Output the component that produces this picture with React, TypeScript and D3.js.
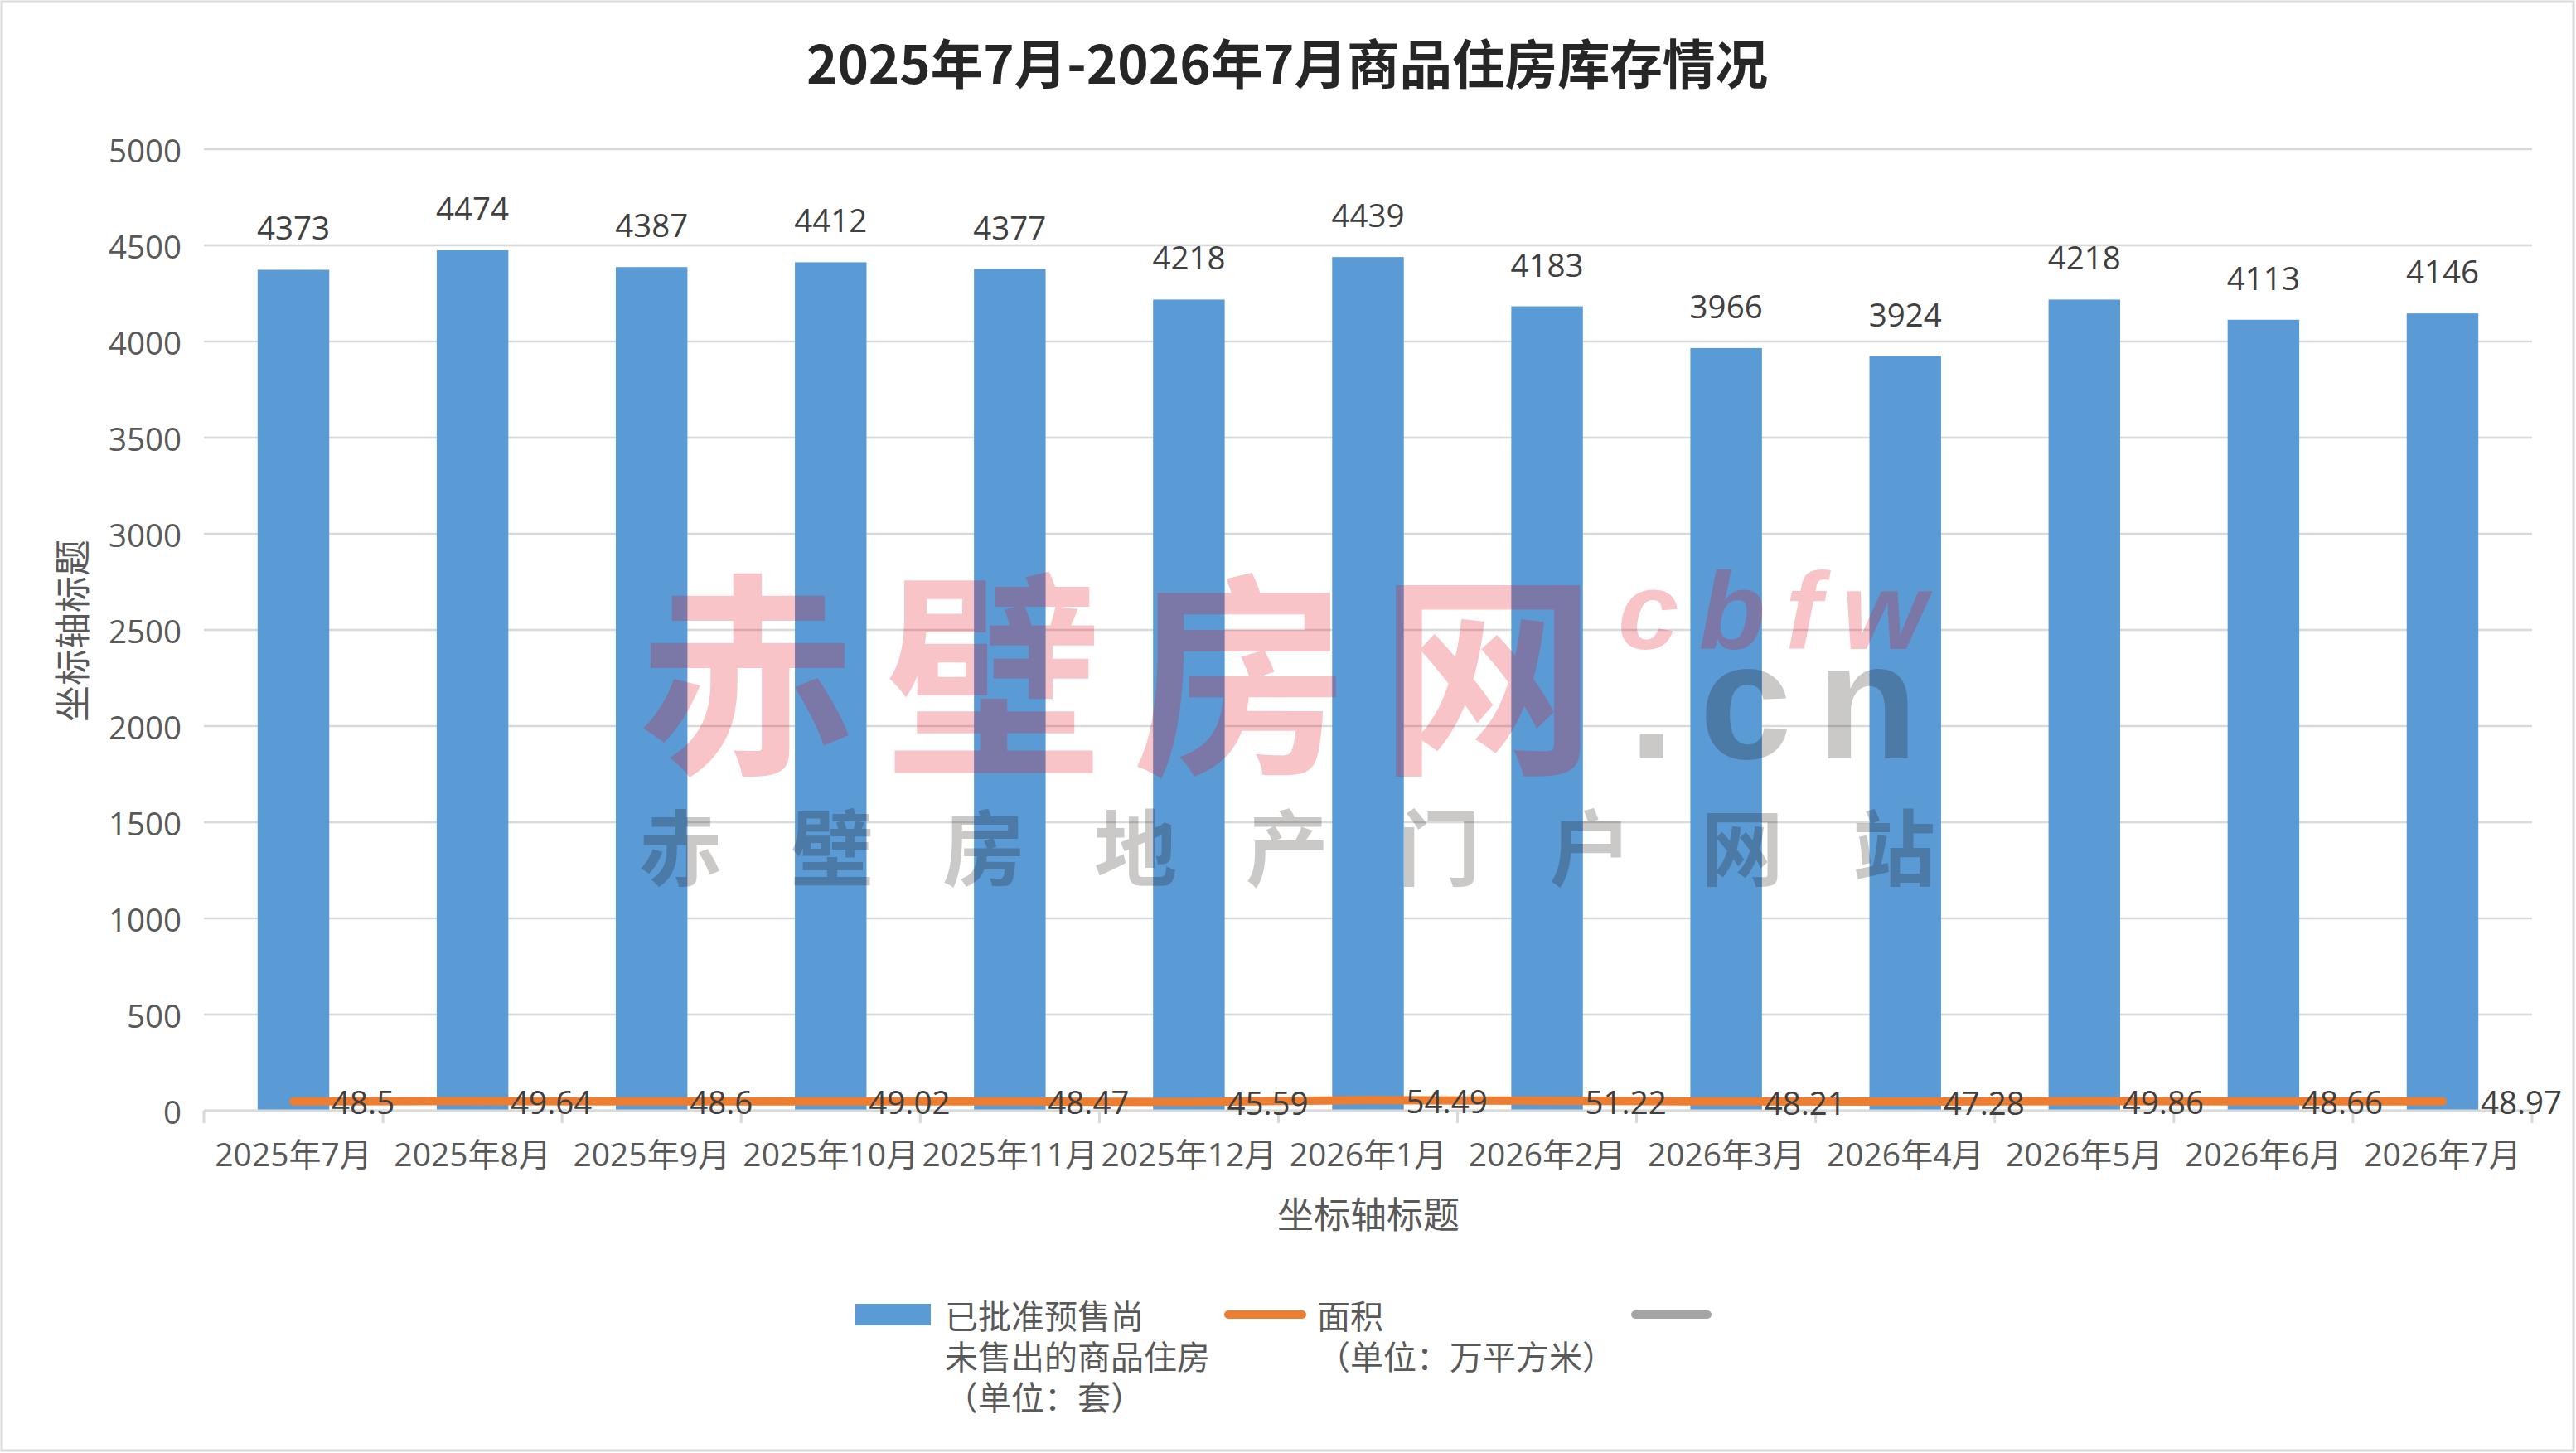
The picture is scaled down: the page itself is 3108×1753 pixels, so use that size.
import React from 'react';
import * as d3 from 'd3';

const categories = [
  '2025年7月', '2025年8月', '2025年9月', '2025年10月', '2025年11月', '2025年12月',
  '2026年1月', '2026年2月', '2026年3月', '2026年4月', '2026年5月', '2026年6月', '2026年7月',
];
const unsoldUnits = [4373, 4474, 4387, 4412, 4377, 4218, 4439, 4183, 3966, 3924, 4218, 4113, 4146];
const unsoldArea = [48.5, 49.64, 48.6, 49.02, 48.47, 45.59, 54.49, 51.22, 48.21, 47.28, 49.86, 48.66, 48.97];
const yTickValues = [0, 500, 1000, 1500, 2000, 2500, 3000, 3500, 4000, 4500, 5000];

const titleText = '2025年7月-2026年7月商品住房库存情况';
const axisTitle = '坐标轴标题';
const legendBarLines = ['已批准预售尚', '未售出的商品住房', '（单位：套）'];
const legendLineLines = ['面积', '（单位：万平方米）'];

const wmMain = '赤壁房网';
const wmLatin = 'cbfw';
const wmDomain = '.cn';
const wmSub = ['赤', '壁', '房', '地', '产', '门', '户', '网', '站'];

const W = 3108;
const H = 1753;
const LATIN = "'Open Sans', 'Noto Sans CJK SC', sans-serif";
const CJK = "'Noto Sans CJK SC', sans-serif";

export default function App() {
  const left = 246;
  const right = 3055;
  const top = 180;
  const bottom = 1340;

  const x = d3.scaleBand<string>().domain(categories).range([left, right]).paddingInner(0.6).paddingOuter(0.3);
  const y = d3.scaleLinear().domain([0, 5000]).range([bottom, top]);
  const step = (right - left) / categories.length;
  const cx = (c: string) => (x(c) as number) + x.bandwidth() / 2;

  const lineGen = d3
    .line<number>()
    .x((_, i) => cx(categories[i]))
    .y((d) => y(d));

  const fs = 38.5;
  const capHalf = fs * 0.714 / 2;

  return (
    <svg
      width={W}
      height={H}
      viewBox={`0 0 ${W} ${H}`}
      style={{ position: 'fixed', left: 0, top: 0, background: '#fff' }}
    >
      <rect x={2} y={2} width={W - 5} height={H - 5} fill="#fff" stroke="#d9d9d9" strokeWidth={3} />

      {/* title */}
      <text
        x={1553}
        y={78 + 23}
        textAnchor="middle"
        fontFamily={CJK}
        fontWeight={700}
        fontSize={63.5}
        fill="#262626"
      >
        {titleText}
      </text>

      {/* gridlines */}
      {yTickValues.map((v) => (
        <line key={'g' + v} x1={left} x2={right} y1={y(v)} y2={y(v)} stroke="#d9d9d9" strokeWidth={2.5} />
      ))}

      {/* y tick labels */}
      {yTickValues.map((v) => (
        <text
          key={'yl' + v}
          x={219}
          y={y(v) + capHalf + 2}
          textAnchor="end"
          fontFamily={LATIN}
          fontSize={fs}
          fill="#595959"
        >
          {v}
        </text>
      ))}

      {/* bars */}
      {unsoldUnits.map((v, i) => (
        <rect
          key={'b' + i}
          x={x(categories[i])}
          y={y(v)}
          width={x.bandwidth()}
          height={bottom - y(v)}
          fill="#5b9bd5"
        />
      ))}

      {/* x axis */}
      <line x1={left} x2={right} y1={bottom} y2={bottom} stroke="#d9d9d9" strokeWidth={3} />
      {d3.range(categories.length + 1).map((i) => (
        <line
          key={'t' + i}
          x1={left + i * step}
          x2={left + i * step}
          y1={bottom}
          y2={bottom + 15}
          stroke="#d9d9d9"
          strokeWidth={3}
        />
      ))}
      {categories.map((c) => (
        <text key={'xl' + c} x={cx(c)} y={1393 + capHalf} textAnchor="middle" fontFamily={LATIN} fontSize={39} fill="#595959">
          {c}
        </text>
      ))}

      {/* line series */}
      <path d={lineGen(unsoldArea) || ''} fill="none" stroke="#ed7d31" strokeWidth={10} strokeLinecap="round" strokeLinejoin="round" />

      {/* bar labels */}
      {unsoldUnits.map((v, i) => (
        <text key={'bl' + i} x={cx(categories[i])} y={y(v) - 36} textAnchor="middle" fontFamily={LATIN} fontSize={fs} fill="#404040">
          {v}
        </text>
      ))}

      {/* line labels */}
      {unsoldArea.map((v, i) => (
        <text key={'ll' + i} x={cx(categories[i]) + 46} y={y(v) + capHalf + 2} textAnchor="start" fontFamily={LATIN} fontSize={fs} fill="#404040">
          {v}
        </text>
      ))}

      {/* axis titles */}
      <text x={1651} y={1463} dominantBaseline="central" textAnchor="middle" fontFamily={CJK} fontSize={44} fill="#595959">
        {axisTitle}
      </text>
      <text
        transform={`translate(85,761) rotate(-90)`}
        dominantBaseline="central"
        textAnchor="middle"
        fontFamily={CJK}
        fontSize={44}
        fill="#595959"
      >
        {axisTitle}
      </text>

      {/* legend */}
      <rect x={1032} y={1573} width={91} height={26} fill="#5b9bd5" />
      {legendBarLines.map((t, i) => (
        <text key={'lb' + i} x={1140} y={1586 + i * 49} dominantBaseline="central" fontFamily={CJK} fontSize={40} fill="#595959">
          {t}
        </text>
      ))}
      <line x1={1482} x2={1571} y1={1586} y2={1586} stroke="#ed7d31" strokeWidth={10} strokeLinecap="round" />
      {legendLineLines.map((t, i) => (
        <text key={'ll2' + i} x={1589} y={1586 + i * 49} dominantBaseline="central" fontFamily={CJK} fontSize={40} fill="#595959">
          {t}
        </text>
      ))}
      <line x1={1973} x2={2060} y1={1586} y2={1586} stroke="#a5a5a5" strokeWidth={10} strokeLinecap="round" />

      {/* watermark */}
      <g pointerEvents="none">
        <text x={770} y={914} fontFamily={CJK} fontWeight={700} fontSize={262} letterSpacing={36} fill="rgb(226,14,30)" fillOpacity={0.245}>
          {wmMain}
        </text>
        <text
          x={1952}
          y={783}
          fontFamily="'Liberation Sans', Arial, sans-serif"
          fontWeight={700}
          fontStyle="italic"
          fontSize={132}
          letterSpacing={24}
          fill="rgb(226,14,30)"
          fillOpacity={0.245}
        >
          {wmLatin}
        </text>
        <text
          x={1965}
          y={915}
          fontFamily="'Liberation Sans', Arial, sans-serif"
          fontWeight={700}
          fontSize={200}
          letterSpacing={30}
          fill="rgb(20,5,5)"
          fillOpacity={0.22}
        >
          {wmDomain}
        </text>
        {wmSub.map((ch, i) => (
          <text
            key={'ws' + i}
            x={821 + i * 183}
            y={1061}
            textAnchor="middle"
            fontFamily={CJK}
            fontWeight={700}
            fontSize={100}
            fill="rgb(20,5,5)"
            fillOpacity={0.22}
          >
            {ch}
          </text>
        ))}
      </g>
    </svg>
  );
}
